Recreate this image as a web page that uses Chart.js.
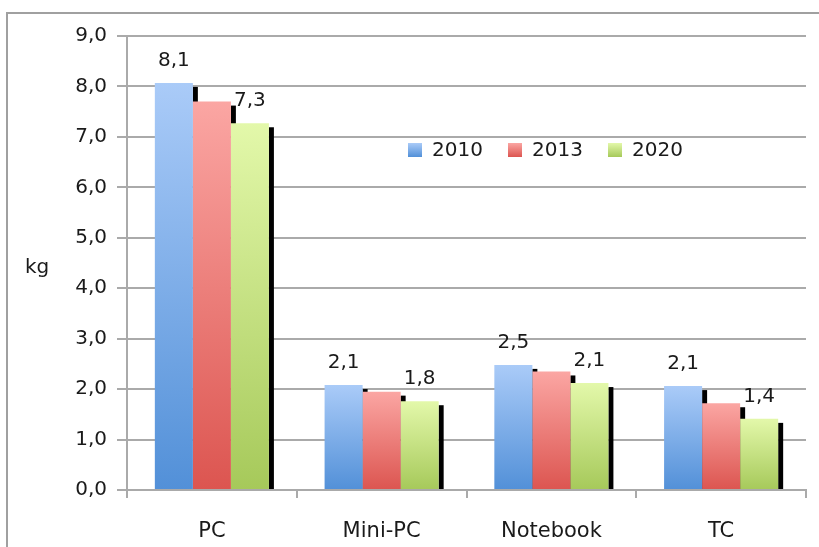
<!DOCTYPE html>
<html>
<head>
<meta charset="utf-8">
<script src="https://cdn.jsdelivr.net/npm/chart.js@4/dist/chart.umd.min.js"></script>
<style>
    html, body { margin: 0; padding: 0; background: #fff; }
    #wrap { width: 819px; height: 547px; }
</style>
</head>
<body>
<div id="wrap"><canvas id="chart"></canvas></div>
<script>
const categories = ['PC', 'Mini-PC', 'Notebook', 'TC'];
const years = ['2010', '2013', '2020'];
const values2010 = [8.07, 2.08, 2.48, 2.06];
const values2013 = [7.70, 1.95, 2.35, 1.72];
const values2020 = [7.27, 1.76, 2.12, 1.41];
const labeledYears = ['2010', '2020'];
const yTicks = [0, 1, 2, 3, 4, 5, 6, 7, 8, 9];

// top / bottom colours of each series gradient
const shades = [
    ['#aacbf8', '#5290d8'],
    ['#fba6a3', '#dc5550'],
    ['#e3f8aa', '#a6c95a']
];

const FONT = 'DejaVu Sans';
const TEXT = '#1a1a1a';

function fmt(v) {
    return v.toFixed(1).replace('.', ',');
}

function barGradient(i) {
    return (ctx) => {
        const chart = ctx.chart;
        if (!chart.chartArea || ctx.type !== 'data') return shades[i][0];
        const y = chart.scales.y;
        const top = y.getPixelForValue(ctx.raw);
        const base = y.getPixelForValue(0);
        const g = chart.ctx.createLinearGradient(0, top, 0, base);
        g.addColorStop(0, shades[i][0]);
        g.addColorStop(1, shades[i][1]);
        return g;
    };
}

// frame, "kg" and the legend
const decorations = {
    id: 'decorations',
    beforeDraw(chart) {
        const c = chart.ctx;
        c.save();
        c.strokeStyle = '#a0a0a0';
        c.lineWidth = 2;
        c.beginPath();
        c.moveTo(7, 547);
        c.lineTo(7, 13);
        c.lineTo(819, 13);
        c.stroke();
        c.restore();
    },
    afterDraw(chart) {
        const c = chart.ctx;
        c.save();
        c.fillStyle = TEXT;
        c.font = '20px ' + FONT;
        c.textBaseline = 'middle';
        c.textAlign = 'left';
        c.fillText('kg', 25, 268);

        // legend
        let x = 408;
        const y = 150;
        chart.data.datasets.forEach((ds, i) => {
            const g = c.createLinearGradient(0, y - 7, 0, y + 7);
            g.addColorStop(0, shades[i][0]);
            g.addColorStop(1, shades[i][1]);
            c.fillStyle = g;
            c.fillRect(x, y - 7, 14, 14);
            c.fillStyle = TEXT;
            c.fillText(ds.label, x + 24, y + 1);
            x += 100;
        });
        c.restore();
    }
};

// black drop shadow to the right of each bar
const barShadow = {
    id: 'barShadow',
    beforeDatasetsDraw(chart) {
        const c = chart.ctx;
        c.save();
        c.fillStyle = '#000';
        chart.data.datasets.forEach((ds, i) => {
            chart.getDatasetMeta(i).data.forEach(el => {
                const { x, y, width, base } = el.getProps(['x', 'y', 'width', 'base'], true);
                c.fillRect(x + width / 2, y + 4, 5, base - y - 4);
            });
        });
        c.restore();
    }
};

const valueLabels = {
    id: 'valueLabels',
    afterDatasetsDraw(chart) {
        const c = chart.ctx;
        c.save();
        c.fillStyle = TEXT;
        c.font = '20px ' + FONT;
        c.textAlign = 'center';
        c.textBaseline = 'middle';
        chart.data.datasets.forEach((ds, i) => {
            if (!labeledYears.includes(ds.label)) return;
            chart.getDatasetMeta(i).data.forEach((el, j) => {
                c.fillText(fmt(ds.data[j]), el.x, el.y - 22);
            });
        });
        c.restore();
    }
};

const seriesValues = [values2010, values2013, values2020];

new Chart(document.getElementById('chart'), {
    type: 'bar',
    data: {
        labels: categories,
        datasets: years.map((yr, i) => ({
            label: yr,
            data: seriesValues[i],
            backgroundColor: barGradient(i),
            borderWidth: 0,
            categoryPercentage: 0.672,
            barPercentage: 1
        }))
    },
    options: {
        responsive: true,
        maintainAspectRatio: false,
        animation: false,
        layout: { padding: { left: 0, right: 13, top: 36, bottom: 0 } },
        plugins: {
            legend: { display: false },
            tooltip: { enabled: false }
        },
        scales: {
            y: {
                min: 0,
                max: 9,
                afterFit: (s) => { s.width = 127; },
                afterBuildTicks: (s) => { s.ticks = yTicks.map(v => ({ value: v })); },
                ticks: {
                    padding: 10,
                    color: TEXT,
                    font: { family: FONT, size: 20 },
                    callback: (v) => fmt(v)
                },
                grid: { color: '#aaaaaa', lineWidth: 2, tickLength: 10 },
                border: { color: '#aaaaaa', width: 2 }
            },
            x: {
                afterFit: (s) => { s.height = 57; },
                ticks: {
                    padding: 21,
                    color: TEXT,
                    font: { family: FONT, size: 21 }
                },
                grid: { drawOnChartArea: false, color: '#aaaaaa', lineWidth: 2, tickLength: 8 },
                border: { color: '#aaaaaa', width: 2 }
            }
        }
    },
    plugins: [decorations, barShadow, valueLabels]
});
</script>
</body>
</html>
